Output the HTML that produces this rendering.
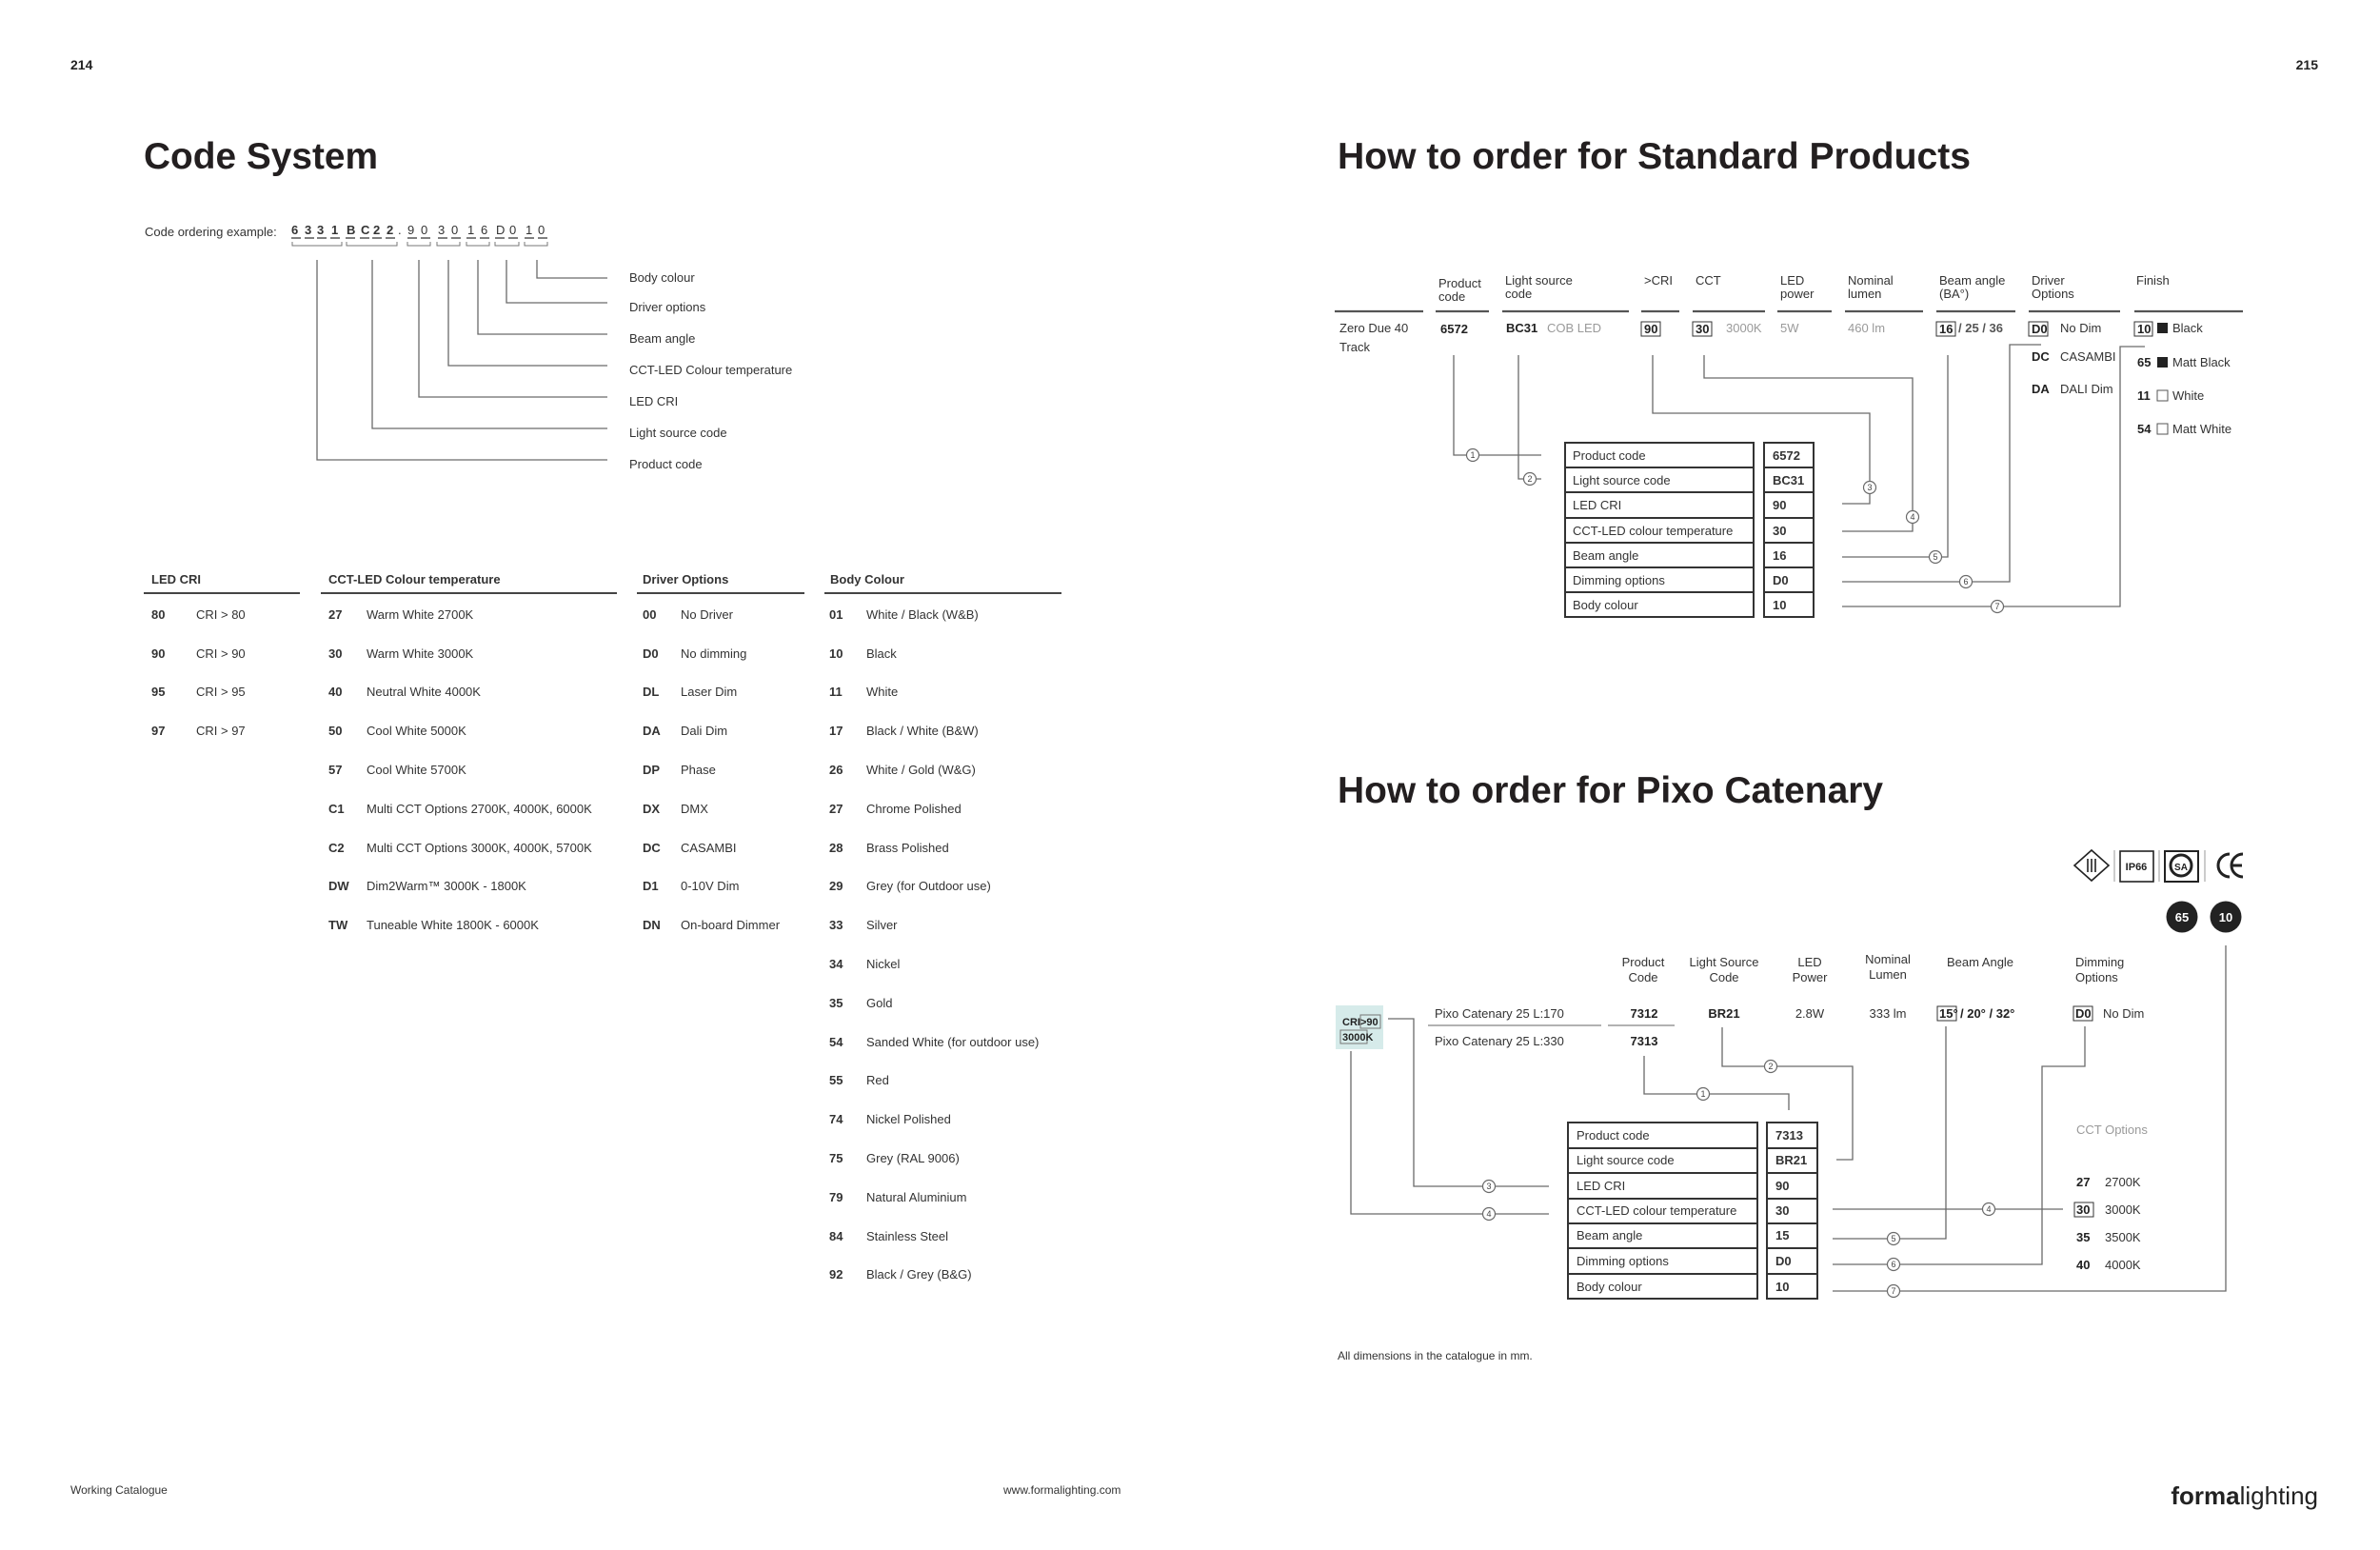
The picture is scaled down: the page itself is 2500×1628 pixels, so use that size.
<!DOCTYPE html>
<html><head><meta charset="utf-8"><style>
html,body{margin:0;padding:0;background:#fff;}
svg{display:block;}
text{font-family:"Liberation Sans",sans-serif;font-size:13px;fill:#333;}
.b{font-weight:bold;fill:#222;}
.g{fill:#9a9a9a;}
.h{font-size:39px;font-weight:bold;fill:#231f20;}
.c{stroke:#6a6a6a;stroke-width:1.3;fill:none;}
.k{stroke:#333;stroke-width:2;fill:none;}
.n{font-size:9px;fill:#444;text-anchor:middle;}
.m{text-anchor:middle;}
</style></head><body>
<svg width="2500" height="1628" viewBox="0 0 2500 1628" xmlns="http://www.w3.org/2000/svg">
<defs>
<g id="cc"><circle r="6.5" fill="#fff" stroke="#6a6a6a" stroke-width="1.2"/></g>
</defs>
<!-- page numbers -->
<text x="74" y="73" class="b" style="font-size:14px">214</text>
<text x="2435" y="73" class="b" style="font-size:14px" text-anchor="end">215</text>

<!-- ===== LEFT: Code System ===== -->
<text x="151" y="177" class="h" textLength="246" lengthAdjust="spacingAndGlyphs">Code System</text>
<text x="152" y="248">Code ordering example:</text>
<g class="b" style="font-size:14px">
<text x="306" y="246">6</text><text x="320" y="246">3</text><text x="333" y="246">3</text><text x="348" y="246">1</text>
<text x="364" y="246">B</text><text x="379" y="246">C</text><text x="392" y="246">2</text><text x="406" y="246">2</text>
<text x="418" y="246" style="font-weight:normal">.</text>
<text x="428" y="246" style="font-weight:normal">9</text><text x="442" y="246" style="font-weight:normal">0</text>
<text x="460" y="246" style="font-weight:normal">3</text><text x="474" y="246" style="font-weight:normal">0</text>
<text x="491" y="246" style="font-weight:normal">1</text><text x="505" y="246" style="font-weight:normal">6</text>
<text x="521" y="246" style="font-weight:normal">D</text><text x="535" y="246" style="font-weight:normal">0</text>
<text x="552" y="246" style="font-weight:normal">1</text><text x="565" y="246" style="font-weight:normal">0</text>
</g>
<g stroke="#333" stroke-width="1.3">
<path d="M306 250h10M320 250h10M333 250h10M347 250h10M363 250h10M378 250h10M391 250h10M405 250h10M428 250h10M442 250h10M460 250h10M474 250h10M490 250h10M504 250h10M520 250h10M534 250h10M551 250h10M565 250h10"/>
</g>
<g stroke="#777" stroke-width="1" fill="none">
<path d="M307 254v4h52v-4M364 254v4h53v-4M428 254v4h24v-4M459 254v4h24v-4M490 254v4h24v-4M520 254v4h25v-4M551 254v4h24v-4"/>
</g>
<g class="c">
<path d="M564 273V292H638"/>
<path d="M532 273V318H638"/>
<path d="M502 273V351H638"/>
<path d="M471 273V384H638"/>
<path d="M440 273V417H638"/>
<path d="M391 273V450H638"/>
<path d="M333 273V483H638"/>
</g>
<g>
<text x="661" y="296">Body colour</text>
<text x="661" y="327">Driver options</text>
<text x="661" y="360">Beam angle</text>
<text x="661" y="393">CCT-LED Colour temperature</text>
<text x="661" y="426">LED CRI</text>
<text x="661" y="459">Light source code</text>
<text x="661" y="492">Product code</text>
</g>

<!-- tables -->
<g class="b" style="font-size:12px">
<text x="159" y="613">LED CRI</text>
<text x="345" y="613">CCT-LED Colour temperature</text>
<text x="675" y="613">Driver Options</text>
<text x="872" y="613">Body Colour</text>
</g>
<g stroke="#444" stroke-width="2"><path d="M151 623H315M337 623H648M669 623H845M866 623H1115"/></g>
<g style="font-size:12px">
<g class="b">
<text x="159" y="650">80</text><text x="159" y="691">90</text><text x="159" y="731">95</text><text x="159" y="772">97</text>
<text x="345" y="650">27</text><text x="345" y="691">30</text><text x="345" y="731">40</text><text x="345" y="772">50</text><text x="345" y="813">57</text><text x="345" y="854">C1</text><text x="345" y="895">C2</text><text x="345" y="935">DW</text><text x="345" y="976">TW</text>
<text x="675" y="650">00</text><text x="675" y="691">D0</text><text x="675" y="731">DL</text><text x="675" y="772">DA</text><text x="675" y="813">DP</text><text x="675" y="854">DX</text><text x="675" y="895">DC</text><text x="675" y="935">D1</text><text x="675" y="976">DN</text>
<text x="871" y="650">01</text><text x="871" y="691">10</text><text x="871" y="731">11</text><text x="871" y="772">17</text><text x="871" y="813">26</text><text x="871" y="854">27</text><text x="871" y="895">28</text><text x="871" y="935">29</text><text x="871" y="976">33</text><text x="871" y="1017">34</text><text x="871" y="1058">35</text><text x="871" y="1099">54</text><text x="871" y="1139">55</text><text x="871" y="1180">74</text><text x="871" y="1221">75</text><text x="871" y="1262">79</text><text x="871" y="1303">84</text><text x="871" y="1343">92</text>
</g>
<text x="206" y="650">CRI &gt; 80</text><text x="206" y="691">CRI &gt; 90</text><text x="206" y="731">CRI &gt; 95</text><text x="206" y="772">CRI &gt; 97</text>
<text x="385" y="650">Warm White 2700K</text><text x="385" y="691">Warm White 3000K</text><text x="385" y="731">Neutral White 4000K</text><text x="385" y="772">Cool White 5000K</text><text x="385" y="813">Cool White 5700K</text><text x="385" y="854">Multi CCT Options 2700K, 4000K, 6000K</text><text x="385" y="895">Multi CCT Options 3000K, 4000K, 5700K</text><text x="385" y="935">Dim2Warm™ 3000K - 1800K</text><text x="385" y="976">Tuneable White 1800K - 6000K</text>
<text x="715" y="650">No Driver</text><text x="715" y="691">No dimming</text><text x="715" y="731">Laser Dim</text><text x="715" y="772">Dali Dim</text><text x="715" y="813">Phase</text><text x="715" y="854">DMX</text><text x="715" y="895">CASAMBI</text><text x="715" y="935">0-10V Dim</text><text x="715" y="976">On-board  Dimmer</text>
<text x="910" y="650">White / Black  (W&amp;B)</text><text x="910" y="691">Black</text><text x="910" y="731">White</text><text x="910" y="772">Black / White  (B&amp;W)</text><text x="910" y="813">White / Gold  (W&amp;G)</text><text x="910" y="854">Chrome Polished</text><text x="910" y="895">Brass Polished</text><text x="910" y="935">Grey (for Outdoor use)</text><text x="910" y="976">Silver</text><text x="910" y="1017">Nickel</text><text x="910" y="1058">Gold</text><text x="910" y="1099">Sanded White  (for outdoor use)</text><text x="910" y="1139">Red</text><text x="910" y="1180">Nickel Polished</text><text x="910" y="1221">Grey (RAL 9006)</text><text x="910" y="1262">Natural Aluminium</text><text x="910" y="1303">Stainless Steel</text><text x="910" y="1343">Black / Grey  (B&amp;G)</text>
</g>

<!-- footer -->
<text x="74" y="1569" style="font-size:12px">Working Catalogue</text>
<text x="1054" y="1569" style="font-size:12px">www.formalighting.com</text>
<text x="2435" y="1580" text-anchor="end" style="font-size:26px;fill:#222"><tspan style="font-weight:bold">forma</tspan>lighting</text>

<!-- ===== RIGHT TOP: Standard Products ===== -->
<text x="1405" y="177" class="h" textLength="665" lengthAdjust="spacingAndGlyphs">How to order for Standard Products</text>
<g class="g" style="font-size:12px">
<text x="1511" y="302">Product</text><text x="1511" y="316">code</text>
<text x="1581" y="299">Light source</text><text x="1581" y="313">code</text>
<text x="1727" y="299">&gt;CRI</text>
<text x="1781" y="299">CCT</text>
<text x="1870" y="299">LED</text><text x="1870" y="313">power</text>
<text x="1941" y="299">Nominal</text><text x="1941" y="313">lumen</text>
<text x="2037" y="299">Beam angle</text><text x="2037" y="313">(BA°)</text>
<text x="2134" y="299">Driver</text><text x="2134" y="313">Options</text>
<text x="2244" y="299">Finish</text>
</g>
<g stroke="#555" stroke-width="2.2"><path d="M1402 327H1495M1508 327H1564M1578 327H1711M1724 327H1764M1778 327H1854M1867 327H1924M1938 327H2020M2034 327H2117M2131 327H2227M2242 327H2356"/></g>
<g style="font-size:12px">
<text x="1407" y="349">Zero Due 40</text><text x="1407" y="369">Track</text>
<text x="1513" y="350" class="b">6572</text>
<text x="1582" y="349" class="b">BC31</text><text x="1625" y="349" class="g">COB LED</text>
<rect x="1724" y="338" width="20" height="15" fill="none" stroke="#333"/><text x="1727" y="350" class="b">90</text>
<rect x="1778" y="338" width="20" height="15" fill="none" stroke="#333"/><text x="1781" y="350" class="b">30</text>
<text x="1813" y="349" class="g">3000K</text>
<text x="1870" y="349" class="g">5W</text>
<text x="1941" y="349" class="g">460 lm</text>
<rect x="2034" y="338" width="20" height="15" fill="none" stroke="#333"/><text x="2037" y="350" class="b">16</text>
<text x="2057" y="349" class="b" style="fill:#555">/ 25 / 36</text>
<rect x="2131" y="338" width="20" height="15" fill="none" stroke="#333"/><text x="2134" y="350" class="b">D0</text>
<text x="2164" y="349">No Dim</text>
<text x="2134" y="379" class="b">DC</text><text x="2164" y="379">CASAMBI</text>
<text x="2134" y="413" class="b">DA</text><text x="2164" y="413">DALI Dim</text>
<rect x="2242" y="338" width="19" height="15" fill="none" stroke="#333"/><text x="2245" y="350" class="b">10</text>
<rect x="2266" y="339" width="11" height="11" fill="#222"/><text x="2282" y="349">Black</text>
<text x="2245" y="385" class="b">65</text><rect x="2266" y="375" width="11" height="11" fill="#222"/><text x="2282" y="385">Matt Black</text>
<text x="2245" y="420" class="b">11</text><rect x="2266" y="410" width="11" height="11" fill="none" stroke="#555"/><text x="2282" y="420">White</text>
<text x="2245" y="455" class="b">54</text><rect x="2266" y="445" width="11" height="11" fill="none" stroke="#555"/><text x="2282" y="455">Matt White</text>
</g>
<!-- table 1 -->
<g class="k">
<rect x="1644" y="465" width="198" height="183"/>
<path d="M1644 491H1842M1644 517H1842M1644 544H1842M1644 570H1842M1644 596H1842M1644 622H1842"/>
<rect x="1853" y="465" width="52" height="183"/>
<path d="M1853 491H1905M1853 517H1905M1853 544H1905M1853 570H1905M1853 596H1905M1853 622H1905"/>
</g>
<g style="font-size:12px">
<text x="1652" y="483">Product code</text><text x="1652" y="509">Light source code</text><text x="1652" y="535">LED CRI</text><text x="1652" y="562">CCT-LED colour temperature</text><text x="1652" y="588">Beam angle</text><text x="1652" y="614">Dimming options</text><text x="1652" y="640">Body colour</text>
<g class="b"><text x="1862" y="483">6572</text><text x="1862" y="509">BC31</text><text x="1862" y="535">90</text><text x="1862" y="562">30</text><text x="1862" y="588">16</text><text x="1862" y="614">D0</text><text x="1862" y="640">10</text></g>
</g>
<g class="c">
<path d="M1527 373V478H1619"/>
<path d="M1595 373V503H1619"/>
<path d="M1736 373V434H1964V529H1935"/>
<path d="M1790 373V397H2009V558H1935"/>
<path d="M2046 373V585H1935"/>
<path d="M2144 362H2111V611H1935"/>
<path d="M2253 364H2227V637H1935"/>
</g>
<g>
<use href="#cc" x="1547" y="478"/><text x="1547" y="481" class="n">1</text>
<use href="#cc" x="1607" y="503"/><text x="1607" y="506" class="n">2</text>
<use href="#cc" x="1964" y="512"/><text x="1964" y="515" class="n">3</text>
<use href="#cc" x="2009" y="543"/><text x="2009" y="546" class="n">4</text>
<use href="#cc" x="2033" y="585"/><text x="2033" y="588" class="n">5</text>
<use href="#cc" x="2065" y="611"/><text x="2065" y="614" class="n">6</text>
<use href="#cc" x="2098" y="637"/><text x="2098" y="640" class="n">7</text>
</g>

<!-- ===== RIGHT BOTTOM: Pixo Catenary ===== -->
<text x="1405" y="843" class="h" textLength="573" lengthAdjust="spacingAndGlyphs">How to order for Pixo Catenary</text>
<!-- cert icons -->
<g fill="none" stroke="#222" stroke-width="1.6">
<path d="M2197 893L2215 909L2197 925L2179 909Z"/>
<path d="M2193 902V916M2197 902V916M2201 902V916"/>
<path d="M2221 893V926M2268 893V926M2316 893V926" stroke="#999" stroke-width="1"/>
<rect x="2227" y="894" width="35" height="32"/>
<rect x="2274" y="894" width="35" height="32" stroke-width="2"/>
<circle cx="2291" cy="909" r="11" stroke-width="3"/>
<path d="M2342 897a12 12 0 1 0 0 24M2356 897a12 12 0 1 0 0 24M2345 909h10" stroke-width="3"/>
</g>
<text x="2244" y="914" class="b m" style="font-size:11px">IP66</text>
<text x="2291" y="914" class="b m" style="font-size:10px">SA</text>
<circle cx="2292" cy="963" r="16.5" fill="#222"/><text x="2292" y="968" class="b m" style="fill:#fff;font-size:13px">65</text>
<circle cx="2338" cy="963" r="16.5" fill="#222"/><text x="2338" y="968" class="b m" style="fill:#fff;font-size:13px">10</text>
<g class="g m" style="font-size:12px">
<text x="1726" y="1015">Product</text><text x="1726" y="1031">Code</text>
<text x="1811" y="1015">Light Source</text><text x="1811" y="1031">Code</text>
<text x="1901" y="1015">LED</text><text x="1901" y="1031">Power</text>
<text x="1983" y="1012">Nominal</text><text x="1983" y="1028">Lumen</text>
<text x="2080" y="1015">Beam Angle</text>
<text x="2180" y="1015" text-anchor="start">Dimming</text><text x="2180" y="1031" text-anchor="start">Options</text>
</g>
<rect x="1403" y="1056" width="50" height="46" fill="#d6ebea"/>
<rect x="1429" y="1066" width="21" height="14" fill="none" stroke="#777"/>
<rect x="1408" y="1082" width="28" height="14" fill="none" stroke="#777"/>
<text x="1410" y="1077" class="b" style="font-size:11px">CRI&gt;90</text>
<text x="1410" y="1093" class="b" style="font-size:11px">3000K</text>
<g style="font-size:12px">
<text x="1507" y="1069">Pixo Catenary 25 L:170</text>
<text x="1507" y="1098">Pixo Catenary 25 L:330</text>
<text x="1727" y="1069" class="b m">7312</text><text x="1727" y="1098" class="b m">7313</text>
<text x="1811" y="1069" class="b m">BR21</text>
<text x="1901" y="1069" class="m">2.8W</text>
<text x="1983" y="1069" class="m">333 lm</text>
<rect x="2035" y="1057" width="20" height="15" fill="none" stroke="#333"/><text x="2037" y="1069" class="b">15°</text>
<text x="2059" y="1069" class="b">/ 20° / 32°</text>
<rect x="2178" y="1057" width="20" height="15" fill="none" stroke="#333"/><text x="2180" y="1069" class="b">D0</text>
<text x="2209" y="1069">No Dim</text>
<text x="2181" y="1191" class="g">CCT Options</text>
<text x="2181" y="1246" class="b">27</text><text x="2211" y="1246">2700K</text>
<rect x="2179" y="1263" width="20" height="15" fill="none" stroke="#333"/><text x="2181" y="1275" class="b">30</text><text x="2211" y="1275">3000K</text>
<text x="2181" y="1304" class="b">35</text><text x="2211" y="1304">3500K</text>
<text x="2181" y="1333" class="b">40</text><text x="2211" y="1333">4000K</text>
</g>
<path d="M1500 1077H1682M1689 1077H1759" stroke="#999" stroke-width="1.5"/>
<g class="k">
<rect x="1647" y="1179" width="199" height="185"/>
<path d="M1647 1206H1846M1647 1232H1846M1647 1259H1846M1647 1285H1846M1647 1311H1846M1647 1338H1846"/>
<rect x="1856" y="1179" width="53" height="185"/>
<path d="M1856 1206H1909M1856 1232H1909M1856 1259H1909M1856 1285H1909M1856 1311H1909M1856 1338H1909"/>
</g>
<g style="font-size:12px">
<text x="1656" y="1197">Product code</text><text x="1656" y="1223">Light source code</text><text x="1656" y="1250">LED CRI</text><text x="1656" y="1276">CCT-LED colour temperature</text><text x="1656" y="1302">Beam angle</text><text x="1656" y="1329">Dimming options</text><text x="1656" y="1356">Body colour</text>
<g class="b"><text x="1865" y="1197">7313</text><text x="1865" y="1223">BR21</text><text x="1865" y="1250">90</text><text x="1865" y="1276">30</text><text x="1865" y="1302">15</text><text x="1865" y="1329">D0</text><text x="1865" y="1356">10</text></g>
</g>
<g class="c">
<path d="M1727 1109V1149H1879V1166"/>
<path d="M1809 1079V1120H1946V1218H1929"/>
<path d="M1458 1070H1485V1246H1627"/>
<path d="M1419 1104V1275H1627"/>
<path d="M1925 1270H2167"/>
<path d="M2044 1078V1301H1925"/>
<path d="M2190 1078V1120H2145V1328H1925"/>
<path d="M2338 993V1356H1925"/>
</g>
<g>
<use href="#cc" x="1789" y="1149"/><text x="1789" y="1152" class="n">1</text>
<use href="#cc" x="1860" y="1120"/><text x="1860" y="1123" class="n">2</text>
<use href="#cc" x="1564" y="1246"/><text x="1564" y="1249" class="n">3</text>
<use href="#cc" x="1564" y="1275"/><text x="1564" y="1278" class="n">4</text>
<use href="#cc" x="2089" y="1270"/><text x="2089" y="1273" class="n">4</text>
<use href="#cc" x="1989" y="1301"/><text x="1989" y="1304" class="n">5</text>
<use href="#cc" x="1989" y="1328"/><text x="1989" y="1331" class="n">6</text>
<use href="#cc" x="1989" y="1356"/><text x="1989" y="1359" class="n">7</text>
</g>
<text x="1405" y="1428" style="font-size:12px">All dimensions in the catalogue in mm.</text>
</svg>
</body></html>
